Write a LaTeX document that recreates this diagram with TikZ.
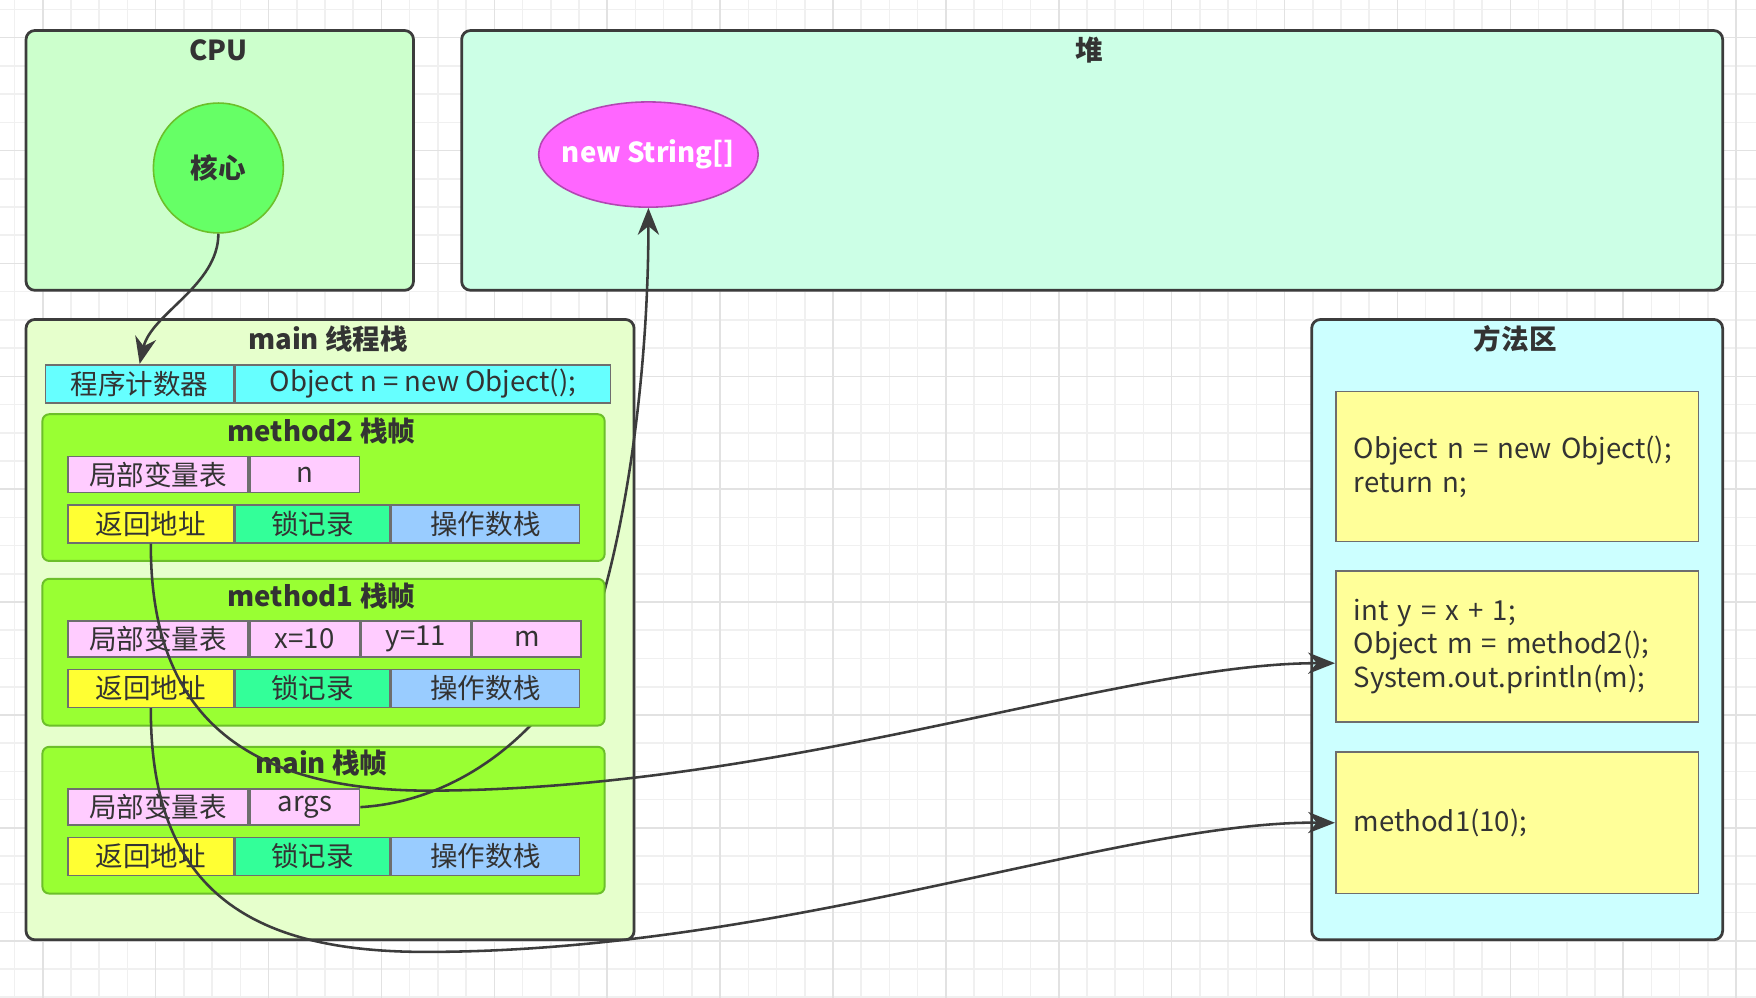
\documentclass[tikz,border=0pt]{standalone}
\usepackage{fontspec}
\setmainfont{Noto Sans CJK SC}
\usepackage{xcolor}
\usetikzlibrary{shapes, arrows.meta, positioning, calc, shapes.geometric}

\definecolor{txt}{HTML}{333333}
\definecolor{areaedge}{HTML}{3C3C3C}
\definecolor{celledge}{HTML}{6E6E6E}
\definecolor{cpufill}{HTML}{CCFFCC}
\definecolor{corefill}{HTML}{66FF66}
\definecolor{heapfill}{HTML}{CCFFE6}
\definecolor{objfill}{HTML}{FF66FF}
\definecolor{stackfill}{HTML}{E6FFCC}
\definecolor{framefill}{HTML}{99FF33}
\definecolor{frameedge}{HTML}{6CBF2A}
\definecolor{pcfill}{HTML}{66FFFF}
\definecolor{varpink}{HTML}{FFCCFF}
\definecolor{retyellow}{HTML}{FFFF33}
\definecolor{lockgreen}{HTML}{33FF99}
\definecolor{opblue}{HTML}{99CCFF}
\definecolor{methodfill}{HTML}{CCFFFF}
\definecolor{codefill}{HTML}{FFFF99}
\definecolor{gridminor}{HTML}{F0F0F0}
\definecolor{gridmajor}{HTML}{E2E2E2}

\begin{document}
\begin{tikzpicture}[
    x=0.1mm, y=-0.1mm,
    font=\fontsize{7}{8.5}\selectfont,
    area/.style={rectangle, draw=areaedge, line width=0.7pt, rounded corners=0.8mm, anchor=north west},
    title/.style={font=\fontsize{7}{8.5}\selectfont\bfseries, text=txt},
    frame/.style={rectangle, draw=frameedge, line width=0.5pt, fill=framefill, rounded corners=0.6mm,
        minimum width=50.2mm, minimum height=13.1mm, anchor=north west},
    cell/.style={rectangle, draw=celledge, line width=0.4pt, text=txt, inner sep=0pt,
        minimum height=3.2mm, anchor=north west},
    code/.style={rectangle, draw=celledge, fill=codefill, line width=0.4pt, text=txt,
        text width=29.2mm, align=left, inner xsep=1.6mm, anchor=north west},
    link/.style={-{Stealth[length=2.4mm, width=1.9mm]}, line width=0.65pt, draw=areaedge}
]
\useasboundingbox (0,0) rectangle (1568,891);

% background grid
\foreach \i in {0,...,62} \draw[gridminor, line width=0.4pt] (13+25.2*\i,0) -- (13+25.2*\i,891);
\foreach \i in {0,...,35} \draw[gridminor, line width=0.4pt] (0,8.4+25.2*\i) -- (1568,8.4+25.2*\i);
\foreach \i in {0,...,15} \draw[gridmajor, line width=0.4pt] (38.2+100.8*\i,0) -- (38.2+100.8*\i,891);
\foreach \i in {0,...,8} \draw[gridmajor, line width=0.4pt] (0,33.6+100.8*\i) -- (1568,33.6+100.8*\i);

% CPU and heap
\node[area, fill=cpufill, minimum width=34.6mm, minimum height=23.2mm] (cpu) at (22,26) {};
\node[title] (cputitle) at (195,45) {CPU};
\node[circle, draw=frameedge, fill=corefill, line width=0.4pt, minimum size=11.6mm, text=txt,
    font=\fontsize{7}{8.5}\selectfont\bfseries] (core) at (195,150) {核心};

\node[area, fill=heapfill, minimum width=112.6mm, minimum height=23.2mm] (heap) at (411,26) {};
\node[title] (heaptitle) at (973,45) {堆};
\node[ellipse, draw=objfill!70!black, fill=objfill, line width=0.4pt, inner sep=0pt,
    minimum width=19.6mm, minimum height=9.4mm, text=white,
    font=\fontsize{7}{8.5}\selectfont\bfseries] (strobj) at (579,138) {\makebox[10mm]{new String[]}};

% thread stack and method area
\node[area, fill=stackfill, minimum width=54.3mm, minimum height=55.4mm] (stack) at (22,284) {};
\node[title] (stacktitle) at (293,303) {main 线程栈};

\node[area, fill=methodfill, minimum width=36.7mm, minimum height=55.4mm] (marea) at (1170,284) {};
\node[title] (mareatitle) at (1353,303) {方法区};
\node[code, minimum height=13.4mm] (code2) at (1192,349) {Object n = new Object();\\return n;};
\node[code, minimum height=13.5mm] (code1) at (1192,509) {int y = x + 1;\\Object m = method2();\\System.out.println(m);};
\node[code, minimum height=12.6mm] (code0) at (1192,671) {method1(10);};

% main frame
\node[frame] (mainfr) at (37,666) {};
\node[title] (maintitle) at (287,681) {main 栈帧};
\node[cell, fill=varpink, minimum width=16.1mm] (mvar) at (60,704) {局部变量表};
\node[cell, fill=varpink, minimum width=9.8mm, right=0pt of mvar] (margs) {args};
\node[cell, fill=retyellow, minimum width=14.8mm, minimum height=3.4mm] (mret) at (60,747) {返回地址};
\node[cell, fill=lockgreen, minimum width=13.8mm, minimum height=3.4mm, right=0pt of mret] (mlock) {锁记录};
\node[cell, fill=opblue, minimum width=16.8mm, minimum height=3.4mm, right=0pt of mlock] (mop) {操作数栈};

% args -> new String[] (runs under method1 frame)
\draw[link] (margs.east) .. controls (420,715) and (500,640) .. (530,560)
    .. controls (560,470) and (579,330) .. (strobj.south);

% method1 frame
\node[frame] (m1fr) at (37,516) {};
\node[title] (m1title) at (287,532) {method1 栈帧};
\node[cell, fill=varpink, minimum width=16.1mm] (m1var) at (60,554) {局部变量表};
\node[cell, fill=varpink, minimum width=9.8mm, right=0pt of m1var] (m1x) {x=10};
\node[cell, fill=varpink, minimum width=9.8mm, right=0pt of m1x] (m1y) {y=11};
\node[cell, fill=varpink, minimum width=9.7mm, right=0pt of m1y] (m1m) {m};
\node[cell, fill=retyellow, minimum width=14.8mm, minimum height=3.4mm] (m1ret) at (60,597) {返回地址};
\node[cell, fill=lockgreen, minimum width=13.8mm, minimum height=3.4mm, right=0pt of m1ret] (m1lock) {锁记录};
\node[cell, fill=opblue, minimum width=16.8mm, minimum height=3.4mm, right=0pt of m1lock] (m1op) {操作数栈};

% method2 frame
\node[frame] (m2fr) at (37,369) {};
\node[title] (m2title) at (287,385) {method2 栈帧};
\node[cell, fill=varpink, minimum width=16.1mm] (m2var) at (60,407) {局部变量表};
\node[cell, fill=varpink, minimum width=9.8mm, right=0pt of m2var] (m2n) {n};
\node[cell, fill=retyellow, minimum width=14.8mm, minimum height=3.4mm] (m2ret) at (60,450) {返回地址};
\node[cell, fill=lockgreen, minimum width=13.8mm, minimum height=3.4mm, right=0pt of m2ret] (m2lock) {锁记录};
\node[cell, fill=opblue, minimum width=16.8mm, minimum height=3.4mm, right=0pt of m2lock] (m2op) {操作数栈};

% program counter
\node[cell, fill=pcfill, minimum width=16.8mm, minimum height=3.4mm] (pc) at (40,325) {程序计数器};
\node[cell, fill=pcfill, minimum width=33.5mm, minimum height=3.4mm, right=0pt of pc] (pcval) {Object n = new Object();};

% connectors
\draw[link] (core.south) .. controls (195,255) and (135,280) .. (pc.north);
\draw[link] (m2ret.south) .. controls (134,640) and (220,705) .. (380,706)
    .. controls (700,706) and (1000,592) .. ([yshift=-1.5mm]code1.west);
\draw[link] (m1ret.south) .. controls (134,800) and (230,850) .. (380,850)
    .. controls (700,850) and (1000,733) .. (code0.west);

\end{tikzpicture}
\end{document}
